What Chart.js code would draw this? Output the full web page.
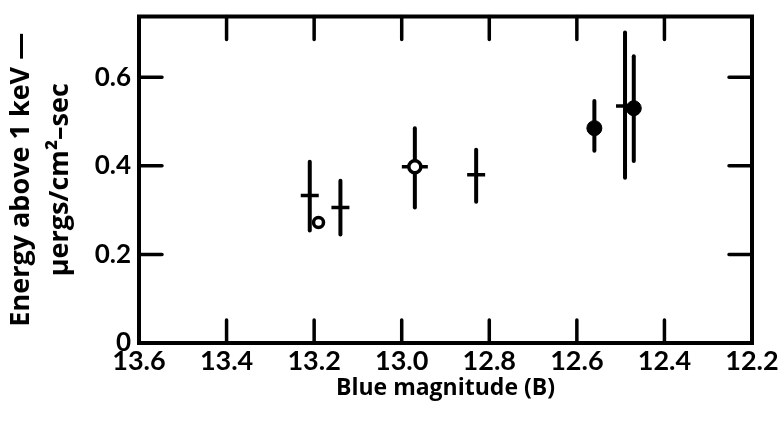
<!DOCTYPE html>
<html>
<head>
<meta charset="utf-8">
<script src="https://cdn.jsdelivr.net/npm/chart.js@4"></script>
<style>
  html, body { margin: 0; padding: 0; background: #fff; }
  #wrap { width: 780px; height: 424px; }
</style>
</head>
<body>
<div id="wrap"><canvas id="chart" width="780" height="424"></canvas></div>
<script>
// values
const magnitude = [13.21, 13.14, 12.97, 12.83, 12.56, 12.49, 12.47];
const energy    = [0.333, 0.306, 0.398, 0.380, 0.485, 0.535, 0.530];
const errLow    = [0.254, 0.245, 0.306, 0.319, 0.434, 0.373, 0.411];
const errHigh   = [0.409, 0.366, 0.485, 0.436, 0.546, 0.701, 0.647];

// which points get which symbol
const crossIdx  = [0, 1, 3, 5];
const openIdx   = [2];
const filledIdx = [4, 6];

// the lone open circle with no error bar
const extraMag    = [13.19];
const extraEnergy = [0.272];

const xTicks = [13.6, 13.4, 13.2, 13.0, 12.8, 12.6, 12.4, 12.2];
const yTicks = [0, 0.2, 0.4, 0.6];

const TICKFONT = "Lato, 'DejaVu Sans', sans-serif";
const TITLEFONT = "'Open Sans', 'DejaVu Sans', sans-serif";

function pts(idx) {
    return idx.map(i => ({ x: magnitude[i], y: energy[i] }));
}

function noPad(s) {
    s.paddingTop = 0; s.paddingBottom = 0;
    s.paddingLeft = 0; s.paddingRight = 0;
}

const framePlugin = {
    id: 'frame',
    beforeDatasetsDraw(chart) {
        const ctx = chart.ctx;
        const xs = chart.scales.x, ys = chart.scales.y;
        ctx.save();
        ctx.strokeStyle = '#000';
        ctx.lineWidth = 4;
        ctx.lineCap = 'round';
        for (let i = 0; i < magnitude.length; i++) {
            const px = xs.getPixelForValue(magnitude[i]);
            ctx.beginPath();
            ctx.moveTo(px, ys.getPixelForValue(errLow[i]));
            ctx.lineTo(px, ys.getPixelForValue(errHigh[i]));
            ctx.stroke();
        }
        ctx.restore();
    },
    afterDatasetsDraw(chart) {
        const ctx = chart.ctx;
        const a = chart.chartArea;
        const xs = chart.scales.x, ys = chart.scales.y;
        ctx.save();
        ctx.strokeStyle = '#000';
        ctx.lineWidth = 4;
        ctx.lineJoin = 'miter';
        ctx.strokeRect(a.left, a.top, a.right - a.left, a.bottom - a.top);
        ctx.lineCap = 'round';
        ctx.lineWidth = 3.5;
        const len = 23;
        xTicks.slice(1, -1).forEach(v => {
            const px = xs.getPixelForValue(v);
            ctx.beginPath();
            ctx.moveTo(px, a.bottom); ctx.lineTo(px, a.bottom - len);
            ctx.moveTo(px, a.top); ctx.lineTo(px, a.top + len);
            ctx.stroke();
        });
        yTicks.slice(1).forEach(v => {
            const py = ys.getPixelForValue(v);
            ctx.beginPath();
            ctx.moveTo(a.left, py); ctx.lineTo(a.left + len, py);
            ctx.moveTo(a.right, py); ctx.lineTo(a.right - len, py);
            ctx.stroke();
        });
        ctx.restore();
    }
};

new Chart(document.getElementById('chart'), {
    type: 'scatter',
    data: {
        datasets: [
            {
                data: pts(filledIdx),
                pointStyle: 'circle', pointRadius: 7.5,
                backgroundColor: '#000', borderColor: '#000', borderWidth: 1
            },
            {
                data: pts(openIdx),
                pointStyle: 'circle', pointRadius: 6,
                backgroundColor: '#fff', borderColor: '#000', borderWidth: 3.5
            },
            {
                data: extraMag.map((m, i) => ({ x: m, y: extraEnergy[i] })),
                pointStyle: 'circle', pointRadius: 5,
                backgroundColor: '#fff', borderColor: '#000', borderWidth: 3.5
            },
            {
                data: pts(openIdx),
                pointStyle: 'line', pointRadius: 13,
                borderColor: '#000', borderWidth: 3.5
            },
            {
                data: pts(crossIdx),
                pointStyle: 'line', pointRadius: 9,
                borderColor: '#000', borderWidth: 3.5
            }
        ]
    },
    options: {
        responsive: false,
        animation: false,
        events: [],
        layout: { padding: { top: 15, right: 28, left: 0, bottom: 0 } },
        plugins: { legend: { display: false }, tooltip: { enabled: false } },
        scales: {
            x: {
                type: 'linear',
                reverse: true,
                min: 12.2, max: 13.6,
                afterBuildTicks: s => { s.ticks = xTicks.map(v => ({ value: v })); },
                afterFit: s => { s.height = 81; noPad(s); },
                grid: { display: false, drawTicks: false, tickLength: 0 },
                border: { display: false },
                ticks: {
                    color: '#000',
                    padding: 5,
                    maxRotation: 0,
                    font: { family: TICKFONT, size: 27, weight: 'bold', lineHeight: 1.0 },
                    callback: v => v.toFixed(1)
                },
                title: {
                    display: true,
                    text: 'Blue magnitude (B)',
                    color: '#000',
                    font: { family: TITLEFONT, size: 23, weight: 'bold', lineHeight: 1.0 },
                    padding: { top: 0, bottom: 24 }
                }
            },
            y: {
                type: 'linear',
                min: 0, max: 0.737,
                afterBuildTicks: s => { s.ticks = yTicks.map(v => ({ value: v })); },
                afterFit: s => { s.width = 139; noPad(s); },
                grid: { display: false, drawTicks: false, tickLength: 0 },
                border: { display: false },
                ticks: {
                    color: '#000',
                    padding: 8,
                    font: { family: TICKFONT, size: 26, weight: 'bold' },
                    callback: v => v === 0 ? '0' : v.toFixed(1)
                },
                title: {
                    display: true,
                    text: ['Energy above 1 keV \u2014', '\u03bcergs/cm\u00b2\u2013sec'],
                    color: '#000',
                    font: { family: TITLEFONT, size: 27, weight: 'bold', lineHeight: 1.45 },
                    padding: { top: 2, bottom: 0 }
                }
            }
        }
    },
    plugins: [framePlugin]
});
</script>
</body>
</html>
